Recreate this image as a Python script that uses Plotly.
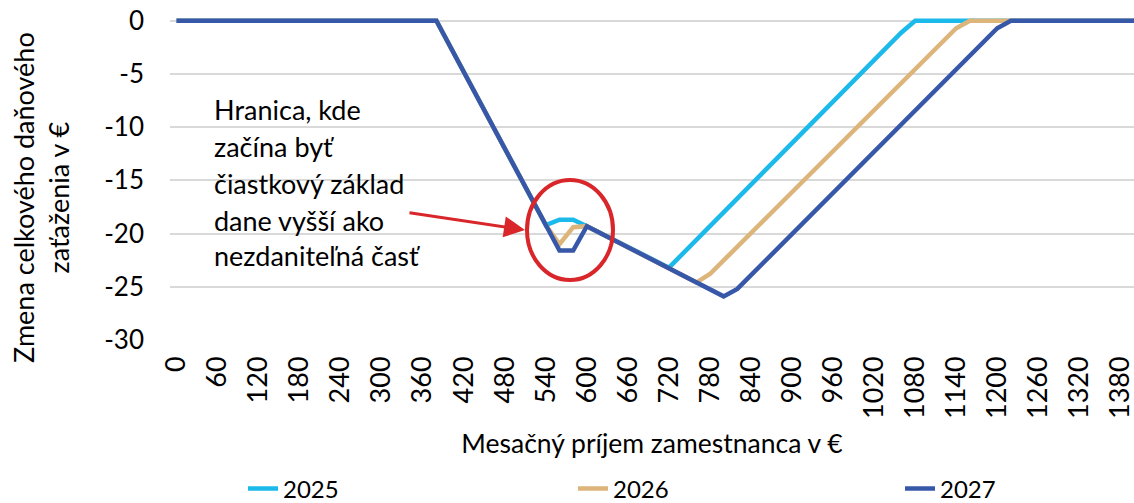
import plotly.graph_objects as go

# ---- data (vertices) ----
x_2025 = [0, 380, 540, 560, 580, 600, 720, 1060, 1080, 1400]
y_2025 = [0, 0, -19.2, -18.7, -18.7, -19.3, -23.2, -1.1, 0, 0]

x_2026 = [0, 380, 540, 560, 580, 600, 760, 780, 1140, 1160, 1400]
y_2026 = [0, 0, -19.2, -21.0, -19.4, -19.3, -24.6, -23.8, -0.7, 0, 0]

x_2027 = [0, 380, 560, 580, 600, 800, 820, 1200, 1220, 1400]
y_2027 = [0, 0, -21.6, -21.6, -19.3, -25.9, -25.2, -0.7, 0, 0]

series_names = ["2025", "2026", "2027"]
series_colors = ["#1CB9EB", "#DDB57B", "#3757A8"]

x_ticks = list(range(0, 1381, 60))
y_ticks = [0, -5, -10, -15, -20, -25, -30]

note_lines = ["Hranica, kde", "začína byť", "čiastkový základ",
              "dane vyšší ako", "nezdaniteľná časť"]

# ---- layout geometry (pixels) ----
W, H = 1134, 503
L, R, T, B = 170, 1134, 16, 340
XR = [-9.5, 1400]
YR = [-30, 0.45]

def px2x(px):
    return XR[0] + (px - L) / (R - L) * (XR[1] - XR[0])

def py2y(py):
    return YR[1] - (py - T) / (B - T) * (YR[1] - YR[0])

def pxp(px):
    return (px - L) / (R - L)

def pyp(py):
    return (B - py) / (B - T)

FONT = "Lato, Noto Sans, sans-serif"

fig = go.Figure()
legend_ids = ["legend", "legend2", "legend3"]
for name, xs, ys, col, lg in zip(series_names, [x_2025, x_2026, x_2027],
                                 [y_2025, y_2026, y_2027], series_colors,
                                 legend_ids):
    fig.add_trace(go.Scatter(x=xs, y=ys, mode="lines", name=name,
                             legend=lg, line=dict(color=col, width=4.5)))

red = "#D9262A"
shapes = [dict(type="circle", xref="x", yref="y",
               x0=px2x(527), x1=px2x(613), y0=py2y(280), y1=py2y(180),
               line=dict(color=red, width=4))]

annotations = []
# arrow
annotations.append(dict(x=px2x(525), y=py2y(230), ax=px2x(408), ay=py2y(212.5),
                        xref="x", yref="y", axref="x", ayref="y", text="",
                        showarrow=True, arrowhead=2, arrowsize=1.4,
                        arrowwidth=3, arrowcolor=red))
# note text
line_centers = [109, 146, 183, 220, 255]
for txt, cy in zip(note_lines, line_centers):
    annotations.append(dict(x=px2x(212), y=py2y(cy), xref="x", yref="y",
                            text=txt, showarrow=False, xanchor="left",
                            yanchor="middle",
                            font=dict(family=FONT, size=27, color="#000000")))
# y title
annotations.append(dict(x=pxp(41), y=pyp(198),
                        xref="paper", yref="paper",
                        text="Zmena celkového daňového<br>zaťaženia v €",
                        textangle=-90, showarrow=False, xanchor="center",
                        yanchor="middle",
                        font=dict(family=FONT, size=27, color="#000000")))

legend_x_px = [243, 573, 900]
legend_common = dict(orientation="h", xanchor="left", y=pyp(489),
                     yanchor="middle", bgcolor="rgba(0,0,0,0)",
                     font=dict(family=FONT, size=24, color="#000000"))

fig.update_layout(
    width=W, height=H,
    margin=dict(l=L, r=W - R, t=T, b=H - B, pad=0, autoexpand=False),
    paper_bgcolor="white", plot_bgcolor="white",
    font=dict(family=FONT, size=25, color="#000000"),
    shapes=shapes, annotations=annotations,
    showlegend=True,
    legend=dict(x=pxp(legend_x_px[0]), **legend_common),
    legend2=dict(x=pxp(legend_x_px[1]), **legend_common),
    legend3=dict(x=pxp(legend_x_px[2]), **legend_common),
    xaxis=dict(range=XR, tickmode="array", tickvals=x_ticks,
               ticktext=[str(v) for v in x_ticks], tickangle=-90,
               showgrid=False, zeroline=False, showline=False,
               ticks="", ticklabelstandoff=10, ticklabeloverflow="allow",
               tickfont=dict(family=FONT, size=27),
               title=dict(text="Mesačný príjem zamestnanca v €",
                          font=dict(family=FONT, size=26.5), standoff=16)),
    yaxis=dict(range=YR, tickmode="array", tickvals=y_ticks,
               ticktext=[str(v) for v in y_ticks],
               showgrid=True, gridcolor="#D9D9D9", gridwidth=2,
               zeroline=False, showline=False, ticks="",
               ticklabelstandoff=25,
               tickfont=dict(family=FONT, size=26)),
)

fig.write_html("out.html", config={"displayModeBar": False},
               post_script="document.body.style.margin='0';")
